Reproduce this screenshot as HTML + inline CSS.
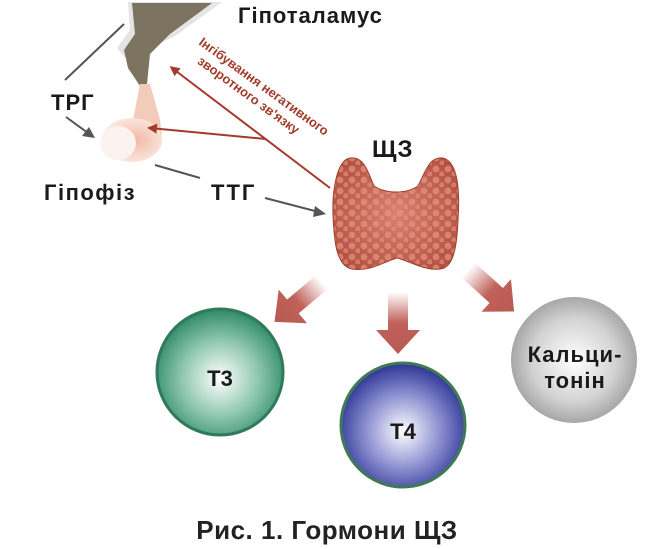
<!DOCTYPE html>
<html><head><meta charset="utf-8"><style>
html,body{margin:0;padding:0;background:#fff;}
svg{display:block;font-family:"Liberation Sans","DejaVu Sans",sans-serif;}
</style></head><body>
<svg width="651" height="549" viewBox="0 0 651 549" xmlns="http://www.w3.org/2000/svg">
<defs>
<radialGradient id="g3" cx="50%" cy="55%" r="55%"><stop offset="0" stop-color="#fff"/><stop offset="0.55" stop-color="#8fc7b1"/><stop offset="1" stop-color="#2f8a68"/></radialGradient>
<radialGradient id="g4" cx="50%" cy="55%" r="55%"><stop offset="0" stop-color="#fff"/><stop offset="0.55" stop-color="#8b8fd0"/><stop offset="1" stop-color="#2c3494"/></radialGradient>
<radialGradient id="gc" cx="50%" cy="50%" r="55%"><stop offset="0" stop-color="#fff"/><stop offset="0.6" stop-color="#d3d3d3"/><stop offset="1" stop-color="#9a9a9a"/></radialGradient>
<linearGradient id="ga" x1="0" y1="0" x2="0" y2="1"><stop offset="0" stop-color="#c0625a" stop-opacity="0"/><stop offset="0.5" stop-color="#c0625a"/><stop offset="1" stop-color="#b85a52"/></linearGradient>
<radialGradient id="gt" cx="50%" cy="50%" r="60%"><stop offset="0" stop-color="#d9806f"/><stop offset="1" stop-color="#b4503f"/></radialGradient>
<radialGradient id="gp" cx="55%" cy="50%" r="55%"><stop offset="0" stop-color="#f1b8a6"/><stop offset="1" stop-color="#fbe9e1"/></radialGradient>
<pattern id="dots" width="12" height="11" patternUnits="userSpaceOnUse"><circle cx="4" cy="4" r="3.4" fill="#e49584" opacity="0.7"/><circle cx="10" cy="9" r="2.8" fill="#e49584" opacity="0.6"/></pattern>
<marker id="mr" markerWidth="10" markerHeight="10" refX="7" refY="5" orient="auto" markerUnits="userSpaceOnUse"><path d="M0,0 L10,5 L0,10 z" fill="#a33a2a"/></marker>
</defs>
<!-- hypothalamus -->
<path d="M128,2 L222,2 L175,36 L150,48 L125,58 L117,48 L130,30 Z" fill="#e6e4e2"/>
<path d="M132,3 L212,3 L170,34 L150,54 L147,84 L140,86 L128,68 L124,50 L135,34 Z" fill="#7d7361"/>
<path d="M140,84 L150,84 L160,120 L162,135 L130,135 L135,110 Z" fill="#f3cbbb"/>
<ellipse cx="132" cy="140" rx="30" ry="22" fill="url(#gp)"/>
<ellipse cx="118" cy="143" rx="18" ry="17" fill="#fbf3ef"/>
<!-- grey lines -->
<line x1="65" y1="80" x2="124" y2="24" stroke="#555" stroke-width="2"/>
<line x1="155" y1="165" x2="200" y2="178" stroke="#555" stroke-width="2"/>
<path d="M66,117 L88,133" stroke="#555" stroke-width="2"/><path d="M95,138 L82,136 L89,127 z" fill="#555"/>
<path d="M265,198 L315,211" stroke="#555" stroke-width="2"/><path d="M326,214 L313,217 L315,206 z" fill="#555"/>
<!-- red feedback -->
<line x1="330" y1="188" x2="172" y2="68" stroke="#a33a2a" stroke-width="2" marker-end="url(#mr)"/>
<line x1="266" y1="139" x2="150" y2="128" stroke="#a33a2a" stroke-width="2" marker-end="url(#mr)"/>
<g transform="translate(198,44) rotate(36)" fill="#a33a2a" font-size="13" font-weight="bold">
<text x="0" y="0">Інгібування негативного</text>
<text x="10" y="16">зворотного зв'язку</text>
</g>
<!-- thyroid -->
<path d="M350,158 C364,156 368,172 374,186 C386,194 406,194 418,186 C426,170 430,156 443,158 C458,162 460,190 458,220 C457,245 454,268 440,269 C425,271 412,262 397,258 C383,262 370,272 352,269 C336,266 334,240 333,215 C332,190 337,160 350,158 Z" fill="url(#gt)"/>
<path d="M350,158 C364,156 368,172 374,186 C386,194 406,194 418,186 C426,170 430,156 443,158 C458,162 460,190 458,220 C457,245 454,268 440,269 C425,271 412,262 397,258 C383,262 370,272 352,269 C336,266 334,240 333,215 C332,190 337,160 350,158 Z" fill="url(#dots)" stroke="#9c3f30" stroke-width="1"/>
<!-- big arrows -->
<g transform="translate(322,282) rotate(50)"><path d="M-9,0 L9,0 L9,38 L22,38 L0,62 L-22,38 L-9,38 Z" fill="url(#ga)"/></g>
<g transform="translate(398,292)"><path d="M-10,0 L10,0 L10,38 L22,38 L0,62 L-22,38 L-10,38 Z" fill="url(#ga)"/></g>
<g transform="translate(468,270) rotate(-48)"><path d="M-10,0 L10,0 L10,38 L22,38 L0,62 L-22,38 L-10,38 Z" fill="url(#ga)"/></g>
<!-- circles -->
<circle cx="220" cy="372" r="63" fill="url(#g3)" stroke="#2f7a5a" stroke-width="3"/>
<circle cx="403" cy="425" r="62" fill="url(#g4)" stroke="#3f7a55" stroke-width="3"/>
<circle cx="574" cy="360" r="63" fill="url(#gc)"/>
<g fill="#1a1a1a" font-weight="bold">
<text x="220" y="386" font-size="22" text-anchor="middle">Т3</text>
<text x="403" y="439" font-size="22" text-anchor="middle">Т4</text>
<text x="575" y="362" font-size="22" letter-spacing="1" text-anchor="middle">Кальци-</text>
<text x="575" y="388" font-size="22" letter-spacing="1" text-anchor="middle">тонін</text>
<text x="238" y="23" font-size="22" letter-spacing="1">Гіпоталамус</text>
<text x="51" y="110" font-size="22" letter-spacing="1">ТРГ</text>
<text x="44" y="200" font-size="22" letter-spacing="1.5">Гіпофіз</text>
<text x="211" y="200" font-size="22" letter-spacing="2">ТТГ</text>
<text x="372" y="157" font-size="24" letter-spacing="1">ЩЗ</text>
<text x="327" y="539" font-size="26" letter-spacing="0.5" text-anchor="middle" fill="#222">Рис. 1. Гормони ЩЗ</text>
</g>
</svg>
</body></html>
